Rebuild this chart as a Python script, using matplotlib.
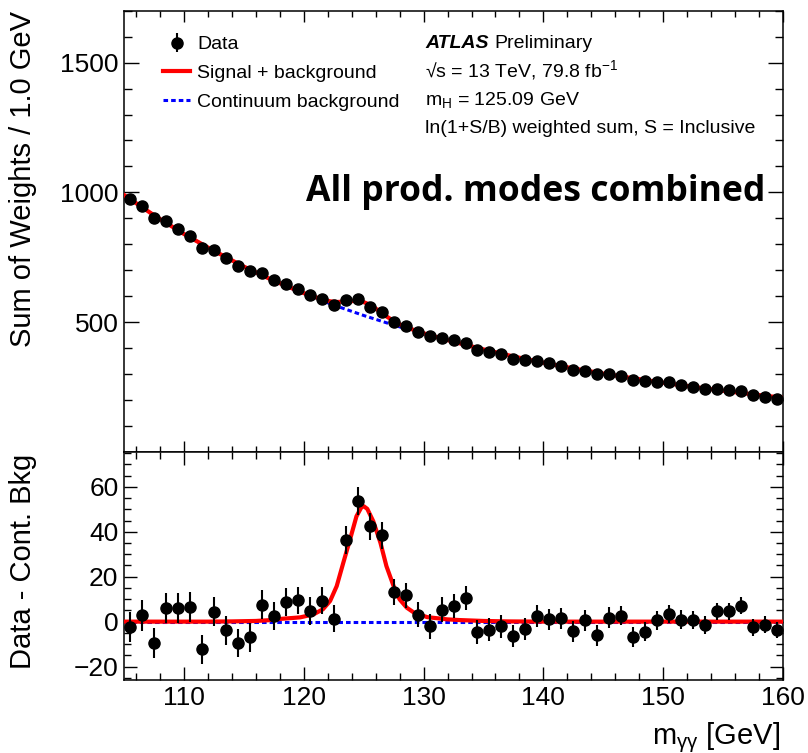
import numpy as np
import matplotlib
matplotlib.use('Agg')
import matplotlib.pyplot as plt
from matplotlib.ticker import MultipleLocator

plt.rcParams['font.family'] = ['Liberation Sans', 'DejaVu Sans']
plt.rcParams['mathtext.fontset'] = 'custom'
plt.rcParams['mathtext.rm'] = 'Liberation Sans'
plt.rcParams['mathtext.it'] = 'Liberation Sans:italic'
plt.rcParams['mathtext.bf'] = 'Liberation Sans:bold'

# bin centres, 1 GeV bins from 105 to 160
mass = np.arange(105.5, 160.0, 1.0)

weights = [973, 947, 903, 888, 859, 832, 787, 778, 746, 715,
           696, 688, 661, 649, 629, 606, 591, 567, 587, 588,
           560, 540, 500, 485, 462, 446, 440, 430, 421, 393,
           385, 377, 360, 355, 351, 341, 333, 317, 314, 299,
           299, 291, 276, 272, 269, 268, 257, 251, 242, 242,
           237, 235, 218, 213, 205]

residuals = [-2.4, 2.8, -9.5, 6.2, 6.2, 6.4, -12.4, 4.4, -3.9, -9.5,
             -7.0, 7.6, 2.4, 8.7, 9.5, 4.7, 9.3, 1.3, 36.3, 53.8,
             42.4, 38.5, 13.3, 11.7, 3.1, -2.1, 5.3, 6.8, 10.5, -4.7,
             -3.6, -2.1, -6.5, -3.1, 2.5, 1.0, 1.5, -4.3, 0.6, -6.1,
             1.8, 2.7, -6.7, -4.4, 0.6, 3.4, 0.9, 0.9, -1.5, 4.6,
             4.7, 7.1, -2.5, -1.3, -3.9]

errors = [6.8, 6.8, 6.7, 6.7, 6.6, 6.6, 6.5, 6.5, 6.4, 6.4,
          6.3, 6.3, 6.2, 6.2, 6.1, 6.1, 6.0, 6.0, 6.2, 6.3,
          6.1, 6.0, 5.8, 5.7, 5.6, 5.5, 5.5, 5.4, 5.4, 5.3,
          5.1, 5.0, 5.0, 4.9, 4.8, 4.8, 4.7, 4.7, 4.6, 4.6,
          4.5, 4.4, 4.4, 4.3, 4.2, 4.2, 4.1, 4.0, 4.0, 3.9,
          3.8, 3.8, 3.7, 3.6, 3.6]

# continuum background curve
bkg_mass = [105, 107.5, 110, 112.5, 115, 117.5, 120, 122.5, 125, 127.5, 130, 132.5,
            135, 137.5, 140, 142.5, 145, 147.5, 150, 152.5, 155, 157.5, 160]
bkg_level = [990, 912, 840, 775, 714, 659, 610, 566, 526, 489, 455, 424,
             395, 368, 344, 322, 302, 284, 267, 251, 236, 222, 209]

# signal curve (above continuum)
sig_mass = [105, 112, 114, 116, 117, 118, 119, 119.7, 120.8, 121.6, 122.2, 122.75,
            123.3, 123.9, 124.4, 124.8, 125.0, 125.3, 125.8, 126.4, 126.9, 127.5,
            128.0, 128.6, 129.2, 130.3, 132, 133, 135, 137, 140, 160]
sig_level = [0, 0, 0.1, 0.3, 0.6, 1.2, 1.6, 1.9, 3.2, 5.5, 9.2, 15.8,
             26.2, 37.3, 46.9, 50.8, 51.4, 50.2, 44.7, 35.1, 24.7, 15.8,
             9.9, 6.2, 4.0, 2.0, 1.0, 0.7, 0.3, 0.1, 0, 0]

grid = np.union1d(bkg_mass, sig_mass)
total = np.interp(grid, bkg_mass, bkg_level) + np.interp(grid, sig_mass, sig_level)

fig = plt.figure(figsize=(8.08, 7.53), dpi=100)
ax = fig.add_axes([0.1535, 0.3997, 0.8156, 0.5861])
ax2 = fig.add_axes([0.1535, 0.0969, 0.8156, 0.3028])

dotted = (0, (1.5, 1.0))

# upper panel
l_bkg, = ax.plot(bkg_mass, bkg_level, color='blue', lw=2.2, ls=dotted, zorder=2)
l_sb, = ax.plot(grid, total, color='red', lw=3, zorder=3)
h_data = ax.errorbar(mass, weights, yerr=errors, fmt='o', color='black', ms=8,
                     elinewidth=1.5, capsize=0, zorder=4)

ax.set_xlim(105, 160)
ax.set_ylim(0, 1700)
ax.set_yticks([500, 1000, 1500])
ax.yaxis.set_minor_locator(MultipleLocator(100))
ax.xaxis.set_major_locator(MultipleLocator(10))
ax.xaxis.set_minor_locator(MultipleLocator(2))
ax.tick_params(which='both', direction='in', top=True, right=True, labelbottom=False,
               labelsize=19, width=1)
ax.tick_params(axis='y', which='major', length=11, pad=4)
ax.tick_params(axis='y', which='minor', length=5.5)
ax.tick_params(axis='x', which='major', length=8)
ax.tick_params(axis='x', which='minor', length=4)
ax.set_ylabel('Sum of Weights / 1.0 GeV', fontsize=21, loc='top')
ax.yaxis.set_label_coords(-0.132, 1.0)

ax.legend([h_data, l_sb, l_bkg], ['Data', 'Signal + background', 'Continuum background'],
          loc='upper left', bbox_to_anchor=(0.059, 0.943), borderaxespad=0, borderpad=0,
          frameon=False, fontsize=14, handlelength=1.4, handletextpad=0.36,
          labelspacing=0.57)

atlas = ax.text(0.457, 0.9148, 'ATLAS', fontsize=14, fontweight='bold', fontstyle='italic',
                va='baseline', transform=ax.transAxes)
ax.annotate('Preliminary', xy=(1, 0), xycoords=atlas, xytext=(4, 0),
            textcoords='offset points', fontsize=14, va='bottom')
ax.text(0.457, 0.8504, '√s = 13 TeV, 79.8 fb$^{-1}$', fontsize=14, va='baseline',
        transform=ax.transAxes)
ax.text(0.457, 0.7862, 'm$_{\\mathrm{H}}$ = 125.09 GeV', fontsize=14, va='baseline',
        transform=ax.transAxes)
ax.text(0.457, 0.7222, 'ln(1+S/B) weighted sum, S = Inclusive', fontsize=14, va='baseline',
        transform=ax.transAxes)
ax.text(0.973, 0.590, 'All prod. modes combined', fontsize=25.6, fontweight='bold',
        family=['Open Sans', 'DejaVu Sans'], ha='right', va='center', transform=ax.transAxes)

# lower panel
ax2.plot([105, 160], [0, 0], color='blue', lw=2.2, ls=dotted, zorder=2)
ax2.plot(sig_mass, sig_level, color='red', lw=3, zorder=3)
ax2.errorbar(mass, residuals, yerr=errors, fmt='o', color='black', ms=8,
             elinewidth=1.5, capsize=0, zorder=4)

ax2.set_xlim(105, 160)
ax2.set_ylim(-26, 75.5)
ax2.xaxis.set_major_locator(MultipleLocator(10))
ax2.xaxis.set_minor_locator(MultipleLocator(2))
ax2.yaxis.set_major_locator(MultipleLocator(20))
ax2.yaxis.set_minor_locator(MultipleLocator(5))
ax2.tick_params(which='both', direction='in', top=True, right=True, labelsize=19, width=1)
ax2.tick_params(which='major', length=9.5, pad=4)
ax2.tick_params(which='minor', length=5)
ax2.set_ylabel('Data - Cont. Bkg', fontsize=21)
ax2.yaxis.set_label_coords(-0.132, 0.52)
ax2.set_xlabel('m$_{\\mathrm{γγ}}$ [GeV]', fontsize=21, loc='right')
ax2.xaxis.set_label_coords(0.995, -0.175)

for a in (ax, ax2):
    for s in a.spines.values():
        s.set_linewidth(1.1)

fig.savefig('out.png', dpi=100)
